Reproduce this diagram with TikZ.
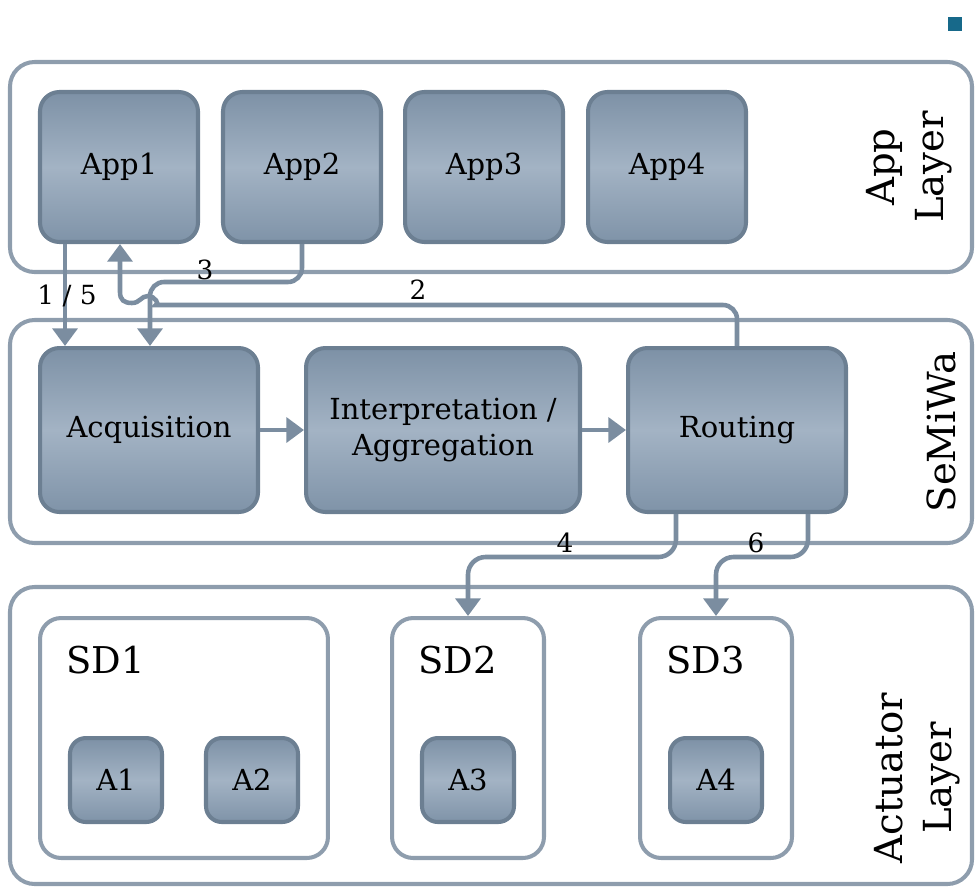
\documentclass[tikz,border=0pt]{standalone}
\usepackage{fontspec}
\setmainfont{DejaVu Serif}
\usetikzlibrary{arrows.meta}
\definecolor{frame}{HTML}{8E9DAD}
\definecolor{edge}{HTML}{6C7F92}
\definecolor{wire}{HTML}{7B8DA0}
\definecolor{boxtop}{HTML}{7D91A6}
\definecolor{boxmid}{HTML}{A3B3C4}
\definecolor{boxbot}{HTML}{7F93A8}
\definecolor{corner}{HTML}{17698A}
\tikzset{
  layer/.style={draw=frame, line width=2.3pt, rounded corners=14pt},
  block/.style={draw=edge, line width=2.3pt, rounded corners=11pt, top color=boxtop, bottom color=boxbot, middle color=boxmid, font=\fontsize{16.5}{20}\selectfont, align=center, inner sep=0pt},
  devbox/.style={draw=frame, line width=2.3pt, rounded corners=12pt, fill=white, minimum width=3.04cm, minimum height=4.8cm},
  wire/.style={draw=wire, line width=2.6pt, -{Triangle[length=10pt, width=14pt]}},
  num/.style={font=\fontsize{15}{18}\selectfont, inner sep=0pt},
  side/.style={font=\fontsize{22}{28}\selectfont, rotate=90, align=center, inner sep=0pt}
}
\begin{document}
\begin{tikzpicture}[x=0.02cm, y=-0.02cm]
  \useasboundingbox (0,0) rectangle (976,886);
  \fill[corner] (948,17) rectangle (962,31);
  % layers
  \draw[layer] (10,62) rectangle (972,272);
  \draw[layer] (10,320) rectangle (972,543);
  \draw[layer] (10,587) rectangle (972,884);
  \node[side] (applayer) at (909,167) {App\\Layer};
  \node[side] (semiwa) at (941,432) {SeMiWa};
  \node[side] (actlayer) at (917,778) {Actuator\\Layer};
  % apps
  \foreach \i/\x in {1/119, 2/302, 3/484, 4/667} {
    \node[block, minimum width=3.16cm, minimum height=3cm] (app\i) at (\x,167) {App\i};
  }
  % middleware
  \node[block, minimum width=4.36cm, minimum height=3.28cm] (acq) at (149,430) {Acquisition};
  \node[block, minimum width=5.48cm, minimum height=3.28cm] (interp) at (443,430) {Interpretation /\\Aggregation};
  \node[block, minimum width=4.36cm, minimum height=3.28cm] (routing) at (737,430) {Routing};
  % devices
  \node[devbox, minimum width=5.76cm] (sd1) at (184,738) {};
  \node[devbox] (sd2) at (468,738) {};
  \node[devbox] (sd3) at (716,738) {};
  \foreach \s in {1,2,3} {
    \node[font=\fontsize{21}{25}\selectfont, anchor=west, inner sep=0pt] (sd\s label) at ([xshift=0.56cm, yshift=-0.88cm]sd\s.north west) {SD\s};
  }
  \foreach \i/\x in {1/116, 2/252, 3/468, 4/716} {
    \node[block, rounded corners=9pt, minimum width=1.84cm, minimum height=1.68cm] (a\i) at (\x,780) {A\i};
  }
  % connectors
  \draw[wire] (app1.south -| 65,0) -- (acq.north -| 65,0);
  \draw[wire, rounded corners=8pt] (app2.south) -- (302,282) -- (150,282) -- (acq.north -| 150,0);
  \draw[wire] (routing.north) [rounded corners=8pt] -- (737,305) -- (170,305) [sharp corners]
    .. controls (160,305) and (155,296) .. (148,296)
    .. controls (141,296) and (140,303) .. (132,303)
    .. controls (124,303) and (120,300) .. (120,292) -- (app1.south -| 120,0);
  \draw[wire, rounded corners=10pt] (routing.south -| 676,0) -- (676,557) -- (468,557) -- (sd2.north);
  \draw[wire, rounded corners=10pt] (routing.south -| 808,0) -- (808,557) -- (716,557) -- (sd3.north);
  \draw[wire] (acq) -- (interp);
  \draw[wire] (interp) -- (routing);
  \node[num] (l15) at (67,296) {1 / 5};
  \node[num] (l3) at (205,270) {3};
  \node[num] (l2) at (418,290) {2};
  \node[num] (l4) at (565,543) {4};
  \node[num] (l6) at (756,543) {6};
\end{tikzpicture}
\end{document}
